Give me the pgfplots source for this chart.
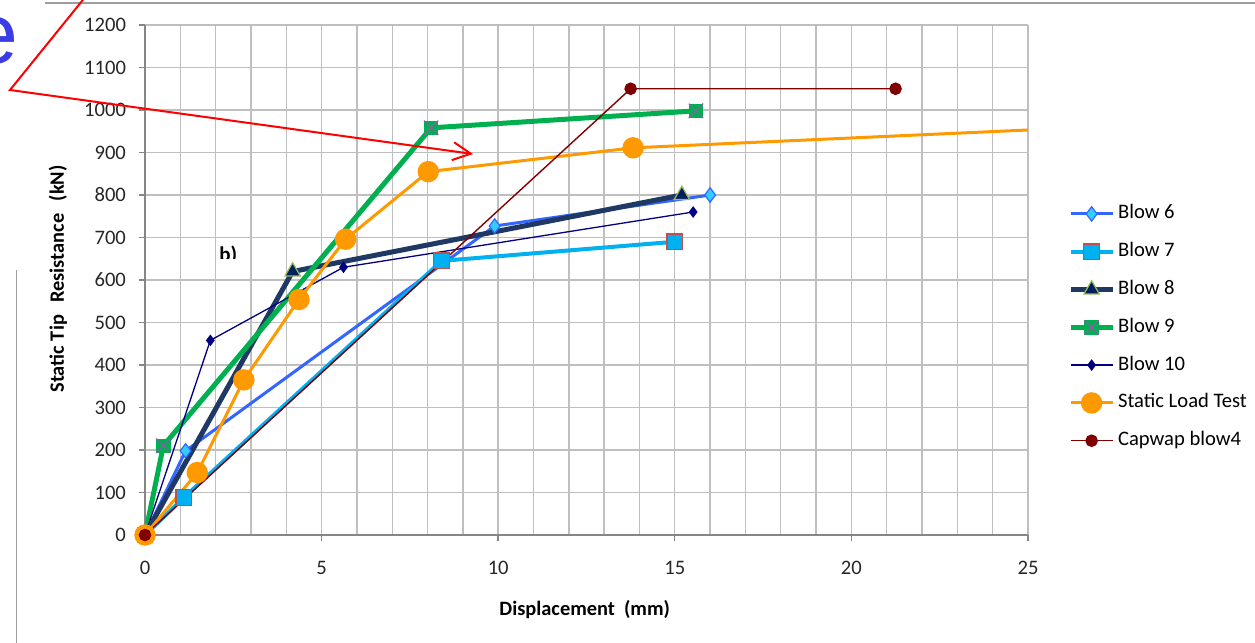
\documentclass[border=0pt]{standalone}
\usepackage{fontspec}
\setmainfont{Carlito}
\newfontfamily\arialfont{Liberation Sans}
\usepackage{pgfplots}
\pgfplotsset{compat=1.18}
\usetikzlibrary{arrows.meta}
\definecolor{bsix}{HTML}{3366FF}
\definecolor{bsixm}{HTML}{33CCFF}
\definecolor{bseven}{HTML}{00B0F0}
\definecolor{bsevene}{HTML}{C0504D}
\definecolor{beight}{HTML}{1F3864}
\definecolor{beightm}{HTML}{002060}
\definecolor{beighte}{HTML}{9BBB59}
\definecolor{bnine}{HTML}{00B050}
\definecolor{bninex}{HTML}{8064A2}
\definecolor{bten}{HTML}{000080}
\definecolor{slt}{HTML}{FF9900}
\definecolor{capwapc}{HTML}{800000}
\definecolor{gridc}{HTML}{BFBFBF}
\definecolor{axc}{HTML}{868686}
\definecolor{eblue}{HTML}{3C3CE6}
\pgfdeclareplotmark{sqx}{%
  \pgfpathrectangle{\pgfqpoint{-\pgfplotmarksize}{-\pgfplotmarksize}}{\pgfqpoint{2\pgfplotmarksize}{2\pgfplotmarksize}}%
  \pgfusepath{fill}%
  \pgfpathmoveto{\pgfqpoint{-\pgfplotmarksize}{-\pgfplotmarksize}}%
  \pgfpathlineto{\pgfqpoint{\pgfplotmarksize}{\pgfplotmarksize}}%
  \pgfpathmoveto{\pgfqpoint{-\pgfplotmarksize}{\pgfplotmarksize}}%
  \pgfpathlineto{\pgfqpoint{\pgfplotmarksize}{-\pgfplotmarksize}}%
  \pgfusepath{stroke}}
\begin{document}
\begin{tikzpicture}[x=0.5pt,y=-0.5pt]
\path[use as bounding box] (0,0) rectangle (1255,643);
\draw[color=axc!80, line width=0.6pt] (45,3) -- (1255,3);
\draw[color=axc!80, line width=0.5pt] (16,270) -- (16,650);
\node[anchor=base east, inner sep=0pt, text=eblue, font=\arialfont\fontsize{43}{50}\selectfont] at (19,63) {e};
\begin{axis}[
  at={(72.5pt,-267.5pt)}, anchor=south west,
  scale only axis, width=441.5pt, height=255pt,
  xmin=0, xmax=25, ymin=0, ymax=1200,
  xtick={0,5,...,25}, minor x tick num=4,
  ytick={0,100,...,1200},
  grid=both,
  major grid style={draw=gridc, line width=0.7pt},
  minor grid style={draw=gridc, line width=0.7pt},
  axis lines*=left,
  axis line style={draw=axc, line width=0.7pt, -},
  tick align=outside,
  major tick length=3pt, minor tick length=0pt,
  tick style={draw=axc, line width=0.7pt},
  /pgf/number format/assume math mode=true,
  /pgf/number format/1000 sep={},
  ticklabel style={font=\fontsize{10.3}{12}\selectfont, text=black!85},
  xticklabel style={yshift=-6.5pt},
  yticklabel style={xshift=-3pt},
  xlabel={Displacement\hspace{0.45em}(mm)},
  ylabel={Static Tip\hspace{0.6em}Resistance\hspace{0.6em}(kN)},
  xlabel style={font=\bfseries\fontsize{10.2}{12}\selectfont, at={(axis description cs:0.498,-0.147)}, anchor=center},
  ylabel style={font=\bfseries\fontsize{10.2}{12}\selectfont, at={(axis description cs:-0.0985,0.502)}, anchor=center},
  legend cell align=left,
  legend style={at={(1.045,0.650)}, anchor=north west, draw=none, fill=none,
    font=\fontsize{10.3}{12}\selectfont, inner sep=0pt, row sep=8.9pt, column sep=1.5pt,
    nodes={inner sep=0pt, text height=7.5pt, text depth=2.5pt}},
  legend image code/.code={\draw[mark repeat=2,mark phase=2] plot coordinates {(-1pt,0pt) (9.5pt,0pt) (20pt,0pt)};},
]
\addplot[bsix, line width=1.5pt, mark=diamond*, mark size=3.6pt, mark options={fill=bsixm, draw=bsix, line width=0.6pt}]
  coordinates {(0,0) (1.15,198) (9.9,727) (16.0,800)};
\addlegendentry{Blow 6}
\addplot[bseven, line width=2pt, mark=square*, mark size=3.9pt, mark options={fill=bseven, draw=bsevene, line width=0.6pt}]
  coordinates {(0,0) (1.1,88) (8.4,645) (15.0,690)};
\addlegendentry{Blow 7}
\addplot[beight, line width=2.5pt, mark=triangle*, mark size=4.4pt, mark options={fill=beightm, draw=beighte, line width=0.6pt}]
  coordinates {(0,0) (4.18,620) (15.2,800)};
\addlegendentry{Blow 8}
\addplot[bnine, line width=2.5pt, mark=sqx, mark size=3.6pt, mark options={fill=bnine, draw=bninex, line width=0.6pt}]
  coordinates {(0,0) (0.52,210) (8.1,958) (15.6,998)};
\addlegendentry{Blow 9}
\addplot[bten, line width=0.65pt, mark=diamond*, mark size=2.4pt, mark options={fill=bten, draw=bten}]
  coordinates {(0,0) (1.85,458) (5.62,630) (15.52,760)};
\addlegendentry{Blow 10}
\addplot[slt, line width=1.5pt, forget plot]
  coordinates {(13.82,911) (25,953)};
\addplot[slt, line width=1.5pt, mark=*, mark size=4.6pt, mark options={fill=slt, draw=slt}]
  coordinates {(0,0) (1.48,147) (2.8,365) (4.36,554) (5.68,696) (8.02,855) (13.82,911)};
\addlegendentry{Static Load Test}
\addplot[capwapc, line width=0.7pt, mark=*, mark size=2.8pt, mark options={fill=capwapc, draw=capwapc}]
  coordinates {(0,0) (13.75,1050) (21.25,1050)};
\addlegendentry{Capwap blow4}
\end{axis}
\draw[red, line width=1pt, -{Straight Barb[length=9pt,width=9pt]}] (99,-20) -- (10,90) -- (473,154);
\begin{scope}
\clip (200,225) rectangle (270,258);
\node[anchor=base west, inner sep=0pt, font=\bfseries\fontsize{10.5}{12}\selectfont] at (219,261) {b)};
\end{scope}
\end{tikzpicture}
\end{document}
